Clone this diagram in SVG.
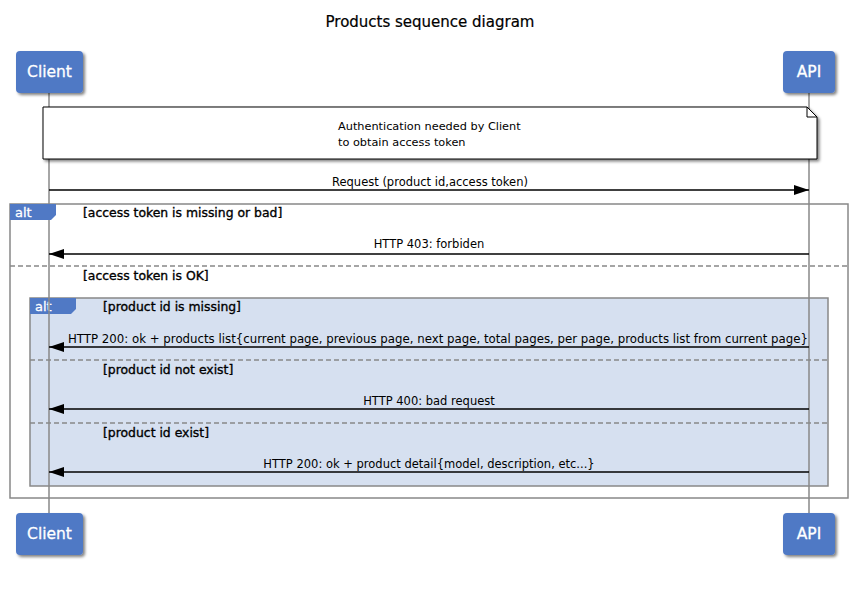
<svg xmlns="http://www.w3.org/2000/svg" width="859" height="589" viewBox="0 0 859 589">
<defs>
<filter id="sh" x="-20%" y="-20%" width="150%" height="150%">
<feGaussianBlur in="SourceAlpha" stdDeviation="1.5"/>
<feOffset dx="2" dy="2" result="b"/>
<feComponentTransfer><feFuncA type="linear" slope="0.5"/></feComponentTransfer>
<feMerge><feMergeNode/><feMergeNode in="SourceGraphic"/></feMerge>
</filter>
<marker id="ah" markerWidth="15" markerHeight="10" refX="15" refY="5" orient="auto" markerUnits="userSpaceOnUse">
<path d="M0,0 L15,5 L0,10 Z" fill="#000"/>
</marker>
</defs>
<style>
text{font-family:"DejaVu Sans","Liberation Sans",sans-serif;fill:#000}
.t{font-size:15px;stroke:#000;stroke-width:0.2}
.p rect{fill:#5079c5}
.p text{fill:#fff;font-size:15.5px;text-anchor:middle;stroke:#fff;stroke-width:0.3}
.life{stroke:#888;stroke-width:1.5;fill:none}
.msg{stroke:#000;stroke-width:1.5;fill:none;marker-end:url(#ah)}
.lbl{font-size:11.5px;text-anchor:middle}
.frame{stroke:#888;stroke-width:1.5}
.sep{stroke:#888;stroke-width:1.5;stroke-dasharray:5,3}
.tab{fill:#5079c5}
.tabt{fill:#fff;font-size:13px;stroke:#fff;stroke-width:0.3}
.g{font-size:12.4px;stroke:#000;stroke-width:0.35}
.note{fill:#fff;stroke:#000;stroke-width:1}
.nt{font-size:11.3px}
</style>
<text class="t" x="430" y="27" text-anchor="middle">Products sequence diagram</text>
<g id="lifelines">
<line class="life" x1="49" y1="93" x2="49" y2="513"/>
<line class="life" x1="809" y1="93" x2="809" y2="513"/>
</g>
<g id="frame-outer">
<rect class="frame" x="10" y="204" width="838" height="294" fill="none"/>
<path class="tab" d="M10,204 H56 V215 L51,220 H10 Z"/>
<text class="tabt" x="15" y="217">alt</text>
<text class="g" x="83" y="217">[access token is missing or bad]</text>
<line class="sep" x1="10" y1="266" x2="848" y2="266"/>
<text class="g" x="83" y="280">[access token is OK]</text>
</g>
<g id="frame-inner">
<rect class="frame" x="30" y="298" width="798" height="188" fill="#d6e0f0"/>
<path class="tab" d="M30,298 H76 V309 L71,314 H30 Z"/>
<text class="tabt" x="35" y="311">alt</text>
<text class="g" x="103" y="311">[product id is missing]</text>
<line class="sep" x1="30" y1="360" x2="828" y2="360"/>
<text class="g" x="103" y="374">[product id not exist]</text>
<line class="sep" x1="30" y1="423" x2="828" y2="423"/>
<text class="g" x="103" y="437">[product id exist]</text>
</g>
<line class="life" x1="49" y1="298" x2="49" y2="486"/>
<line class="life" x1="809" y1="298" x2="809" y2="486"/>
<g id="note">
<path class="note" filter="url(#sh)" d="M43,107 H807 L817,117 V159 H43 Z"/>
<path d="M807,107 V117 H817" fill="none" stroke="#000" stroke-width="1"/>
<text class="nt" x="338" y="130">Authentication needed by Client</text>
<text class="nt" x="338" y="146">to obtain access token</text>
</g>
<g id="connectors">
<line class="msg" x1="49" y1="190" x2="809" y2="190"/>
<text class="lbl" x="430" y="186">Request (product id,access token)</text>
<line class="msg" x1="809" y1="254" x2="49" y2="254"/>
<text class="lbl" x="429" y="248">HTTP 403: forbiden</text>
<line class="msg" x1="809" y1="347" x2="49" y2="347"/>
<text class="lbl" x="438" y="343" textLength="740" lengthAdjust="spacingAndGlyphs">HTTP 200: ok + products list{current page, previous page, next page, total pages, per page, products list from current page}</text>
<line class="msg" x1="809" y1="409" x2="49" y2="409"/>
<text class="lbl" x="429" y="405">HTTP 400: bad request</text>
<line class="msg" x1="809" y1="472" x2="49" y2="472"/>
<text class="lbl" x="429" y="468">HTTP 200: ok + product detail{model, description, etc...}</text>
</g>
<g id="client-top" class="p"><rect x="16" y="51" width="67" height="42" rx="4" filter="url(#sh)"/><text x="49.5" y="77">Client</text></g>
<g id="api-top" class="p"><rect x="783" y="51" width="52" height="42" rx="4" filter="url(#sh)"/><text x="809" y="77">API</text></g>
<g id="client-bottom" class="p"><rect x="16" y="513" width="67" height="42" rx="4" filter="url(#sh)"/><text x="49.5" y="539">Client</text></g>
<g id="api-bottom" class="p"><rect x="783" y="513" width="52" height="42" rx="4" filter="url(#sh)"/><text x="809" y="539">API</text></g>
</svg>
